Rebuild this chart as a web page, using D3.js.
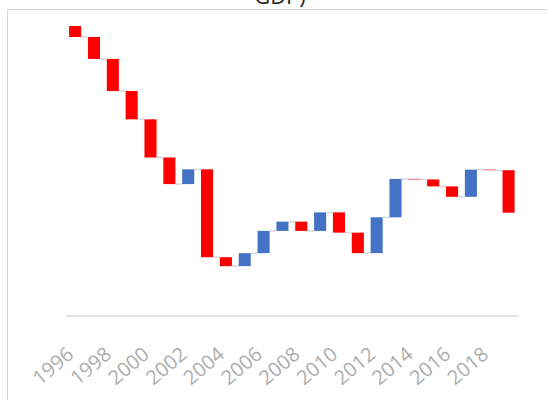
<!DOCTYPE html>
<html>
<head>
<meta charset="utf-8">
<script src="https://cdnjs.cloudflare.com/ajax/libs/d3/7.8.5/d3.min.js"></script>
<style>
body { margin: 0; background: #fff; overflow: hidden; }
svg { display: block; font-family: "Open Sans", sans-serif; }
</style>
</head>
<body>
<div class="chart"></div>
<script>
const WIDTH = 548;
const HEIGHT = 400;

const years = ['1996', '1997', '1998', '1999', '2000', '2001', '2002', '2003',
    '2004', '2005', '2006', '2007', '2008', '2009', '2010', '2011',
    '2012', '2013', '2014', '2015', '2016', '2017', '2018', '2019'];
const startValue = 100;
const changes = [-3.8, -7.6, -11.1, -9.8, -13.2, -9.2, 5.1, -30.4,
    -3.1, 4.5, 7.7, 3.2, -3.2, 6.4, -7.0, -7.1,
    12.4, 13.3, -0.2, -2.4, -3.6, 9.4, -0.2, -14.7];
const tickYears = ['1996', '1998', '2000', '2002', '2004', '2006',
    '2008', '2010', '2012', '2014', '2016', '2018'];
const titleText = 'GDP)';

const RED = '#ff0000';
const BLUE = '#4472c4';
const GRID = '#d9d9d9';

// running totals for the waterfall
var steps = [];
var level = startValue;
years.forEach(function (yr, i) {
    var from = level;
    level = level + changes[i];
    steps.push({ year: yr, from: from, to: level, delta: changes[i] });
});

var xScale = d3.scaleBand().domain(years).range([65.7, 518])
    .paddingInner(0.36).paddingOuter(0.18);
var yScale = d3.scaleLinear().domain([0, 100]).range([315, 26]);

var svg = d3.select('.chart').append('svg')
    .attr('width', WIDTH)
    .attr('height', HEIGHT);

// chart area border (runs off the picture at right and bottom)
svg.append('rect')
    .attr('x', 7.5).attr('y', 9.5)
    .attr('width', 560).attr('height', 420)
    .attr('fill', 'none')
    .attr('stroke', GRID)
    .attr('stroke-width', 1);

// title's last line, clipped at the top as in the original
svg.append('text')
    .attr('x', 280).attr('y', 4)
    .attr('text-anchor', 'middle')
    .attr('font-size', 22)
    .attr('fill', '#222')
    .text(titleText);

function drawAxis() {
    var xAxis = d3.axisBottom(xScale).tickValues(tickYears).tickSize(0).tickSizeOuter(0);
    var g = svg.append('g').attr('transform', 'translate(0,315.5)').call(xAxis);
    g.select('.domain').attr('stroke', GRID).attr('stroke-width', 1.5);
    g.selectAll('text')
        .attr('fill', '#adadad')
        .attr('font-size', 20)
        .attr('font-family', '"Open Sans", sans-serif')
        .attr('text-anchor', 'end')
        .attr('x', 0).attr('y', 0).attr('dy', 0)
        .attr('transform', 'translate(0,41) rotate(-40)');
}

function drawConnectors() {
    var bw = xScale.bandwidth();
    svg.append('g').selectAll('line').data(steps.slice(0, -1)).enter().append('line')
        .attr('x1', function (d) { return xScale(d.year) + bw; })
        .attr('x2', function (d, i) { return xScale(years[i + 1]); })
        .attr('y1', function (d) { return yScale(d.to); })
        .attr('y2', function (d) { return yScale(d.to); })
        .attr('stroke', GRID)
        .attr('stroke-width', 1.5);
}

function drawBars() {
    svg.append('g').selectAll('rect').data(steps).enter().append('rect')
        .attr('x', function (d) { return xScale(d.year); })
        .attr('width', xScale.bandwidth())
        .attr('y', function (d) { return yScale(Math.max(d.from, d.to)); })
        .attr('height', function (d) { return Math.abs(yScale(d.from) - yScale(d.to)); })
        .attr('fill', function (d) { return d.delta < 0 ? RED : BLUE; });
}

drawAxis();
drawConnectors();
drawBars();
</script>
</body>
</html>
